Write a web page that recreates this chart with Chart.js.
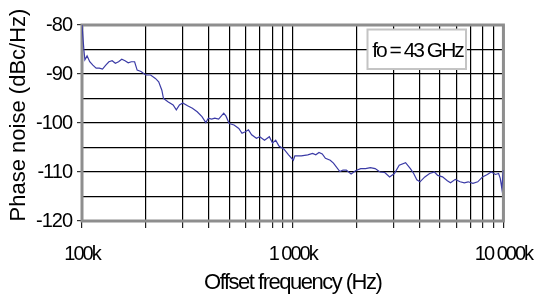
<!DOCTYPE html>
<html>
<head>
<meta charset="utf-8">
<script src="https://cdn.jsdelivr.net/npm/chart.js@4.4.1/dist/chart.umd.min.js"></script>
<style>
html,body{margin:0;padding:0;background:#fff;}
canvas{display:block;}
</style>
</head>
<body>
<canvas id="c" width="553" height="298"></canvas>
<script>
// Offset frequency in kHz
const freqK = [100, 102.1, 103.2, 105.7, 108.8, 112.6, 116.7, 120.8, 125.1, 129.7, 134.2, 139.0, 144.0, 149.1, 154.4, 160.0, 165.7, 171.5, 177.7, 182.7, 190.5, 200.7, 211.6, 223.0, 231.2, 239.3, 243.6, 256.8, 270.7, 280.3, 290.1, 300.7, 317.0, 334.1, 352.1, 371.0, 387.0, 397.7, 412.2, 426.7, 445.0, 470.6, 482.6, 499.5, 526.6, 555.0, 574.6, 595.5, 616.6, 638.3, 672.9, 697.4, 734.9, 774.6, 802.0, 830.4, 860.5, 907.0, 955.9, 1007, 1024, 1099, 1179, 1243, 1287, 1333, 1381, 1430, 1507, 1561, 1674, 1733, 1796, 1893, 1995, 2103, 2217, 2336, 2462, 2596, 2735, 2883, 3038, 3202, 3433, 3618, 3750, 3882, 4019, 4237, 4465, 4706, 4877, 5140, 5418, 5609, 5911, 6230, 6520, 6800, 7168, 7553, 7961, 8390, 8750, 9166, 9489, 9659, 9822, 10000];
// Phase noise in dBc/Hz
const phaseNoise = [-80.0, -85.1, -87.1, -86.3, -87.5, -88.2, -88.8, -88.8, -89.0, -88.2, -87.5, -87.3, -87.8, -87.5, -87.0, -87.3, -87.7, -87.5, -87.5, -89.2, -89.5, -90.2, -90.2, -90.9, -91.6, -93.3, -95.0, -95.7, -96.3, -97.3, -96.3, -95.9, -96.5, -97.0, -97.7, -98.7, -99.9, -99.0, -99.2, -99.0, -99.2, -98.0, -98.6, -100.1, -100.4, -101.1, -102.1, -101.8, -101.4, -102.4, -103.1, -102.8, -103.5, -102.8, -104.1, -103.5, -104.7, -105.3, -106.5, -107.6, -106.7, -106.7, -106.5, -106.2, -106.5, -106.0, -106.3, -107.2, -107.6, -108.2, -109.9, -109.6, -109.6, -110.4, -109.7, -109.3, -109.3, -109.1, -109.3, -110.0, -110.1, -111.0, -110.3, -108.6, -108.1, -109.3, -110.3, -111.6, -112.0, -111.0, -110.3, -110.0, -110.7, -111.0, -111.8, -112.2, -111.5, -112.0, -112.2, -112.0, -112.3, -112.0, -111.0, -110.5, -110.0, -110.5, -110.3, -111.3, -113.3, -109.6];
// X grid/tick positions (kHz) and labelled ticks
const xGridValues = [100, 200, 300, 400, 500, 600, 700, 800, 900, 1000, 2000, 3000, 4000, 5000, 6000, 7000, 8000, 9000, 10000];
const xLabelValues = [100, 1000, 10000];
const xLabelTexts = ['100k', '1 000k', '10 000k'];
// Y axis
const yMin = -120, yMax = -80, yGridStep = 5, yLabelStep = 10;
const xTitle = 'Offset frequency (Hz)';
const yTitle = 'Phase noise (dBc/Hz)';
const noteText = 'fo = 43 GHz';

const FONT = '"Liberation Sans", Arial, sans-serif';

const points = freqK.map((f, i) => ({x: f, y: phaseNoise[i]}));

const textTweaks = {
  id: 'textTweaks',
  beforeDraw(chart) {
    const conf = {x: {labels: '-2px', title: '-1.5px', dy: 0}, y: {labels: '-1px', title: '0px', dy: -8}};
    for (const id in conf) {
      const s = chart.scales[id];
      if (!s || s._patched) continue;
      const c = conf[id];
      const dl = s.drawLabels.bind(s), dt = s.drawTitle.bind(s);
      s.drawLabels = function (a) { const ctx = chart.ctx; ctx.save(); ctx.letterSpacing = c.labels; dl(a); ctx.restore(); };
      s.drawTitle = function () { const ctx = chart.ctx; ctx.save(); ctx.letterSpacing = c.title; ctx.translate(0, c.dy); dt(); ctx.restore(); };
      s._patched = true;
    }
  }
};

const frame = {
  id: 'frame',
  beforeDatasetsDraw(chart) {
    const {ctx, chartArea: a} = chart;
    ctx.save();
    ctx.strokeStyle = '#8e8e8e';
    ctx.lineWidth = 3;
    ctx.strokeRect(a.left, a.top, a.right - a.left, a.bottom - a.top);
    ctx.restore();
  },
  afterDatasetsDraw(chart) {
    const ctx = chart.ctx;
    ctx.save();
    ctx.fillStyle = '#fff';
    ctx.fillRect(367.5, 29.5, 98.5, 39.5);
    ctx.strokeStyle = '#c4c4c4';
    ctx.lineWidth = 2;
    ctx.strokeRect(367.5, 29.5, 98.5, 39.5);
    ctx.fillStyle = '#000';
    ctx.font = '21px ' + FONT;
    ctx.letterSpacing = '-2px';
    ctx.textAlign = 'center';
    ctx.textBaseline = 'alphabetic';
    ctx.fillText(noteText, 417.5, 56.5);
    ctx.restore();
  }
};

new Chart(document.getElementById('c'), {
  type: 'line',
  data: {
    datasets: [{
      data: points,
      borderColor: '#3b3ba6',
      borderWidth: 1.2,
      pointRadius: 0,
      tension: 0,
      fill: false
    }]
  },
  options: {
    responsive: false,
    animation: false,
    devicePixelRatio: 1,
    layout: {padding: {left: 0, right: 33, top: 25, bottom: 0}},
    plugins: {legend: {display: false}, tooltip: {enabled: false}},
    scales: {
      x: {
        type: 'logarithmic',
        min: 100, max: 10000,
        afterBuildTicks: s => { s.ticks = xGridValues.map(v => ({value: v})); },
        afterFit: s => { s.height = 77; },
        border: {display: false},
        grid: {color: '#000', lineWidth: 1.2, drawTicks: true, tickLength: 7, tickColor: '#222'},
        ticks: {
          autoSkip: false, maxRotation: 0, minRotation: 0, padding: 14,
          color: '#000', font: {family: FONT, size: 20},
          callback: v => { const i = xLabelValues.indexOf(v); return i >= 0 ? xLabelTexts[i] : ''; }
        },
        title: {display: true, text: xTitle, color: '#000', font: {family: FONT, size: 22}, padding: {top: 0, bottom: 2}}
      },
      y: {
        type: 'linear',
        min: yMin, max: yMax,
        afterFit: s => { s.width = 82; },
        border: {display: false},
        grid: {color: '#000', lineWidth: 1.2, drawTicks: true, tickLength: 5,
               tickColor: c => (c.tick && c.tick.value % yLabelStep === 0) ? '#333' : 'rgba(0,0,0,0)'},
        ticks: {
          autoSkip: false, stepSize: yGridStep, padding: 5, color: '#000', font: {family: FONT, size: 20},
          callback: v => (v % yLabelStep === 0 ? String(v) : '')
        },
        title: {display: true, text: yTitle, color: '#000', font: {family: FONT, size: 22}, padding: {top: 5.5, bottom: 0}}
      }
    }
  },
  plugins: [textTweaks, frame]
});
</script>
</body>
</html>
